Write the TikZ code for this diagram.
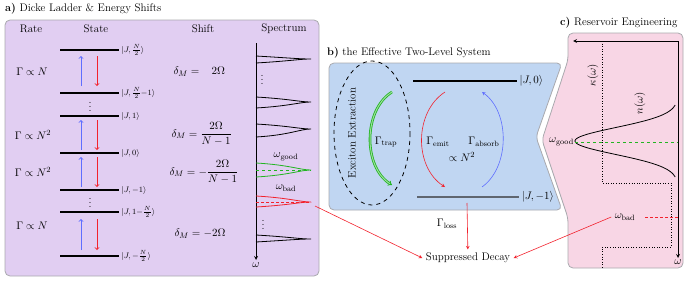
\documentclass[tikz,border=0pt]{standalone}
\usepackage{amsmath}
\usetikzlibrary{arrows.meta,positioning}
\definecolor{panA}{HTML}{E1CEF2}
\definecolor{panB}{HTML}{C0D6F2}
\definecolor{panC}{HTML}{F8D6E5}
\definecolor{frameG}{HTML}{A9A9AE}
\definecolor{upB}{HTML}{5F6EFF}
\definecolor{dnR}{HTML}{F2222D}
\definecolor{okG}{HTML}{22B522}
\definecolor{lvG}{HTML}{5F6670}
\begin{document}
\begin{tikzpicture}[x=1pt,y=-1pt,>=stealth,font=\fontsize{11}{13}\selectfont,
  panel/.style={fill=#1,draw=frameG,line width=0.8pt,rounded corners=5pt},
  lvl/.style={line width=1.1pt},
  ket/.style={right,inner sep=2pt,font=\fontsize{8}{9}\selectfont},
  hop/.style={-to,line width=0.9pt},
  peak/.style={line width=0.8pt},
  dots/.style={inner sep=0pt}]
\useasboundingbox (0,0) rectangle (689,281);

\draw[panel=panA] (5,20) rectangle (319,276);
\draw[panel=panB] (329,63) -- (562,63) -- (536,137) -- (562,210) -- (329,210) -- cycle;
\draw[panel=panC] (568,33) -- (683,33) -- (683,268) -- (568,268) -- (568,218) -- (542,140) -- (568,60) -- cycle;

\node[anchor=west,inner sep=0] (ttlA) at (5,9) {\textbf{a)} Dicke Ladder \& Energy Shifts};
\node (hdRate) at (31,29) {Rate};
\node (hdState) at (96,29) {State};
\node (hdShift) at (203,29) {Shift};
\node (hdSpec) at (284,29) {Spectrum};

\foreach \y/\k [count=\i] in {50/{\tfrac{N}{2}},93/{\tfrac{N}{2}{-}1},116/1,153/0,190/{-1},212/{1{-}\tfrac{N}{2}},256/{-\tfrac{N}{2}}}
  \draw[lvl] (60,\y) -- (119,\y) node[ket] (k\i) {$|J,\k\rangle$};
\node[dots] (vd1) at (90,104) {$\vdots$};
\node[dots] (vd2) at (90,200) {$\vdots$};
\foreach \t/\b in {56/86,120/150,157/187,219/250}{
  \draw[hop,upB] (81,\b) -- (81,\t);
  \draw[hop,dnR] (97,\t) -- (97,\b);}

\node (r1) at (32,72) {$\Gamma\propto N$};
\node (r2) at (33,135) {$\Gamma\propto N^2$};
\node (r3) at (33,172) {$\Gamma\propto N^2$};
\node (r4) at (32,226) {$\Gamma\propto N$};

\node[anchor=west] (s1) at (170,72) {$\delta_M = \;\;\;2\Omega$};
\node[anchor=west] (s2) at (168,134) {$\delta_M = \dfrac{2\Omega}{N-1}$};
\node[anchor=west] (s3) at (166,172) {$\delta_M = -\dfrac{2\Omega}{N-1}$};
\node[anchor=west] (s4) at (171,234) {$\delta_M = -2\Omega$};

\draw[->,thick] (256,43) -- (256,260) node[below,inner sep=2pt] (omA) {$\omega$};
\foreach \a/\t/\b in {56/59/63,97/102/108,124/129/137,235/239/242}
  \draw[peak] (256,\a) .. controls (290,\a+2) and (300,\t) .. (311,\t) .. controls (300,\t) and (290,\b-2) .. (256,\b);
\draw[peak,okG] (256,163) .. controls (290,165) and (300,170) .. (311,170) .. controls (300,170) and (290,175) .. (256,177);
\draw[okG,thick,dashed] (256,170) -- (311,170);
\draw[peak,dnR] (256,196) .. controls (290,198) and (300,202) .. (311,202) .. controls (300,202) and (290,205) .. (256,207);
\draw[dnR,densely dashed] (256,202) -- (311,202);
\coordinate (badTip) at (315,206);
\node (wgA) at (286,157) {$\omega_{\text{good}}$};
\node (wbA) at (286,188) {$\omega_{\text{bad}}$};
\node[dots] (vd3) at (262,77) {$\vdots$};
\node[dots] (vd4) at (263,222) {$\vdots$};

\node[anchor=west,inner sep=0] (ttlB) at (327,53) {\textbf{b)} the Effective Two-Level System};
\draw[lvl] (413,81) -- (517,81) node[right,inner sep=2pt] (kTop) {$|J,0\rangle$};
\draw[lvG,line width=1.6pt] (417,197) -- (519,197) node[right,inner sep=2pt,black] (kBot) {$|J,-1\rangle$};
\draw[thick,dash pattern=on 4pt off 4pt] (372,133) ellipse [x radius=38,y radius=72];
\node[rotate=90] (exc) at (352,133) {Exciton Extraction};
\draw[okG,double=okG!45,double distance=1pt,line width=0.8pt,-{Implies}] (392,92) .. controls (363,110) and (363,167) .. (392,185);
\draw[dnR,semithick,->] (445,92) .. controls (414,112) and (414,167) .. (445,187);
\draw[upB,semithick,->] (482,187) .. controls (510,167) and (510,112) .. (482,92);
\node (gTrap) at (386,142) {$\Gamma_{\text{trap}}$};
\node (gEmit) at (438,142) {$\Gamma_{\text{emit}}$};
\node (gAbs) at (484,142) {$\Gamma_{\text{absorb}}$};
\node (prop) at (462,157) {$\propto N^2$};

\coordinate (lossTop) at (467,203);
\node (decay) at (468,258) {Suppressed Decay};
\node (gLoss) at (447,224) {$\Gamma_{\text{loss}}$};
\draw[->,dnR,semithick] (lossTop) -- (decay);
\draw[->,dnR,semithick] (badTip) -- (decay.west);

\node[anchor=west,inner sep=0] (ttlC) at (560,23) {\textbf{c)} Reservoir Engineering};
\draw[<->,thick] (573,41) -- (678,41) -- (678,258) node[below,inner sep=1pt] (omC) {$\omega$};
\draw[dotted,semithick] (602,41) -- (602,183) -- (671,183) -- (671,247) -- (602,247) -- (602,268);
\node[rotate=90] (kap) at (593,75) {$\kappa(\omega)$};
\node[rotate=90] (nw) at (640,103) {$n(\omega)$};
\draw[thick] plot[domain=105:177,samples=80] ({678-103*exp(-(((\x-141)/19)^2))},\x);
\draw[okG,thick,dashed] (575,142) -- (678,142);
\node[anchor=east,inner sep=1pt] (wgC) at (575,142) {$\omega_{\text{good}}$};
\draw[dnR,densely dashed] (645,217) -- (678,217);
\node (wbC) at (625,217) {$\omega_{\text{bad}}$};
\draw[->,dnR,semithick] (wbC.west) -- (decay.east);
\end{tikzpicture}
\end{document}
